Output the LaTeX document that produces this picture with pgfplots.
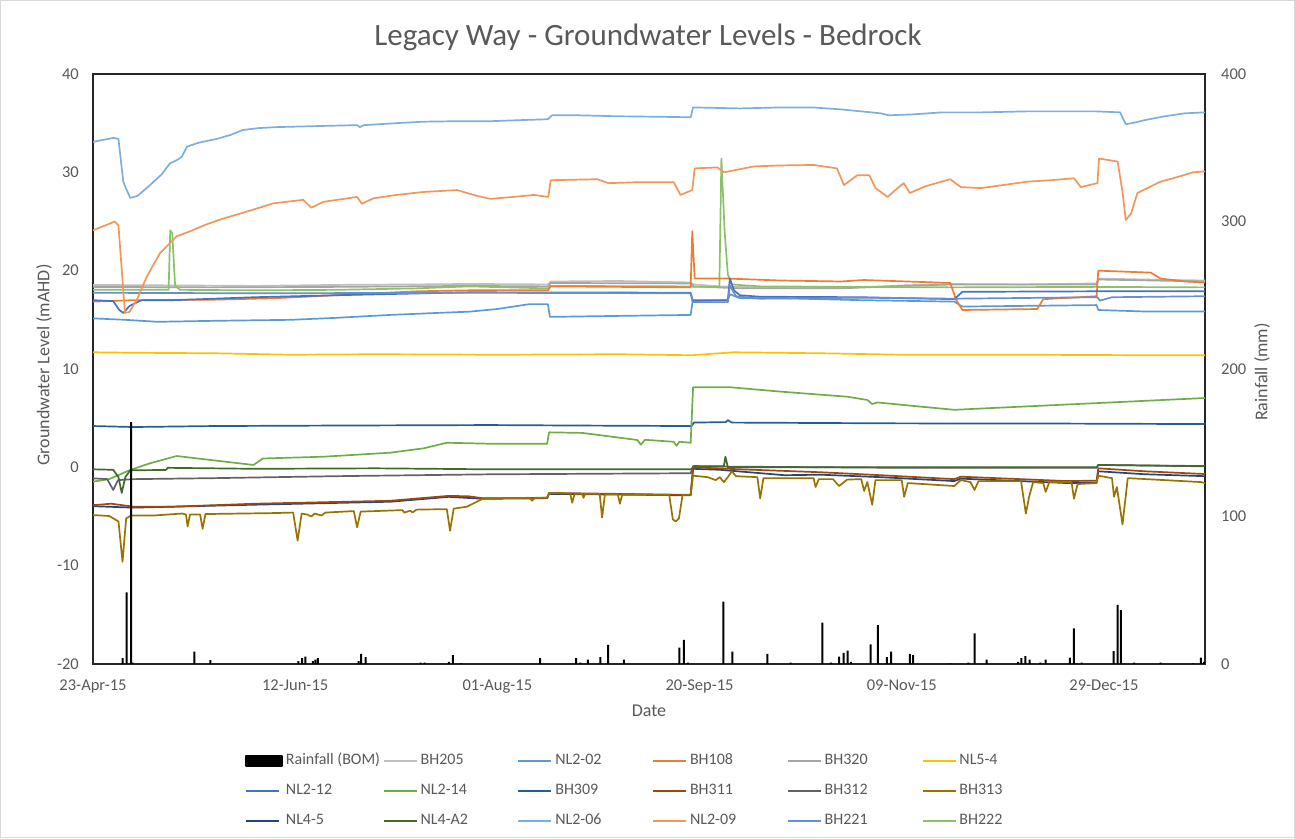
\documentclass[border=0pt]{standalone}
\usepackage{fontspec}
\setmainfont{Carlito}
\usepackage{pgfplots}
\pgfplotsset{compat=1.18}
\definecolor{tgray}{HTML}{595959}
\definecolor{cBHtwoofive}{HTML}{BFBFBF}
\definecolor{cNLtwooh2}{HTML}{5B9BD5}
\definecolor{cBHoneoeight}{HTML}{ED7D31}
\definecolor{cBHthreetwenty}{HTML}{A5A5A5}
\definecolor{cNLfivefour}{HTML}{FFC000}
\definecolor{cNLtwotwelve}{HTML}{4472C4}
\definecolor{cNLtwofourteen}{HTML}{70AD47}
\definecolor{cBHthreeohnine}{HTML}{255E91}
\definecolor{cBHthreeeleven}{HTML}{9E480E}
\definecolor{cBHthreetwelve}{HTML}{636363}
\definecolor{cBHthreethirteen}{HTML}{997300}
\definecolor{cNLfourfive}{HTML}{264478}
\definecolor{cNLfourAtwo}{HTML}{43682B}
\definecolor{cNLtwoohsix}{HTML}{7CAFDD}
\definecolor{cNLtwoohnine}{HTML}{F1975A}
\definecolor{cBHtwotwentyone}{HTML}{698ED0}
\definecolor{cBHtwotwentytwo}{HTML}{8CC168}
\begin{document}
\begin{tikzpicture}[x=1pt,y=1pt]
\useasboundingbox (0,0) rectangle (1295,838);
\draw[color=black!15, line width=1pt] (0.5,0.5) rectangle (1294.5,837.5);
\node[font=\fontsize{31}{36}\selectfont, text=tgray] at (648,801) {Legacy Way - Groundwater Levels - Bedrock};
\node[rotate=90, font=\fontsize{18}{21}\selectfont, text=tgray] at (44,473) {Groundwater Level (mAHD)};
\node[rotate=90, font=\fontsize{18}{21}\selectfont, text=tgray] at (1262,466) {Rainfall (mm)};
\node[font=\fontsize{18}{21}\selectfont, text=tgray] at (649,127) {Date};
\begin{axis}[
  at={(93pt,174pt)}, anchor=south west, scale only axis,
  width=1112pt, height=590pt,
  xmin=0, xmax=275, ymin=-20, ymax=40,
  xtick={0,50,100,150,200,250},
  xticklabels={23-Apr-15,12-Jun-15,01-Aug-15,20-Sep-15,09-Nov-15,29-Dec-15},
  ytick={-20,-10,0,10,20,30,40},
  major tick length=0pt,
  /pgf/number format/assume math mode=true,
  tick label style={font=\fontsize{16.5}{19}\selectfont, text=tgray, inner sep=0pt},
  yticklabel style={anchor=east, xshift=-14pt},
  xticklabel style={anchor=north, yshift=-16pt},
  axis line style={black!85, line width=1.5pt},
  every axis plot/.append style={line width=1.7pt, line join=round},
  legend columns=6,
  legend cell align=left,
  legend image code/.code={\draw[#1] (0pt,0pt) -- (33pt,0pt);},
  legend style={at={(0.1367,-0.1517)}, anchor=north west, draw=none, fill=none,
    inner sep=0pt, row sep=15pt, column sep=0pt,
    font=\fontsize{16}{19}\selectfont, text=tgray,
    nodes={inner sep=0pt, text height=11pt, text depth=4pt}},
]
\addlegendimage{legend image code/.code={\fill[black] (0pt,-5pt) rectangle (36pt,5pt);}}
\addlegendentry{\makebox[100pt][l]{\hspace{3pt}Rainfall (BOM)}}
\addlegendimage{cBHtwoofive, line width=1.7pt}\addlegendentry{\makebox[100pt][l]{\hspace{3pt}BH205}}
\addlegendimage{cNLtwooh2, line width=1.7pt}\addlegendentry{\makebox[100pt][l]{\hspace{3pt}NL2-02}}
\addlegendimage{cBHoneoeight, line width=1.7pt}\addlegendentry{\makebox[100pt][l]{\hspace{3pt}BH108}}
\addlegendimage{cBHthreetwenty, line width=1.7pt}\addlegendentry{\makebox[100pt][l]{\hspace{3pt}BH320}}
\addlegendimage{cNLfivefour, line width=1.7pt}\addlegendentry{\makebox[100pt][l]{\hspace{3pt}NL5-4}}
\addlegendimage{cNLtwotwelve, line width=1.7pt}\addlegendentry{\makebox[100pt][l]{\hspace{3pt}NL2-12}}
\addlegendimage{cNLtwofourteen, line width=1.7pt}\addlegendentry{\makebox[100pt][l]{\hspace{3pt}NL2-14}}
\addlegendimage{cBHthreeohnine, line width=1.7pt}\addlegendentry{\makebox[100pt][l]{\hspace{3pt}BH309}}
\addlegendimage{cBHthreeeleven, line width=1.7pt}\addlegendentry{\makebox[100pt][l]{\hspace{3pt}BH311}}
\addlegendimage{cBHthreetwelve, line width=1.7pt}\addlegendentry{\makebox[100pt][l]{\hspace{3pt}BH312}}
\addlegendimage{cBHthreethirteen, line width=1.7pt}\addlegendentry{\makebox[100pt][l]{\hspace{3pt}BH313}}
\addlegendimage{cNLfourfive, line width=1.7pt}\addlegendentry{\makebox[100pt][l]{\hspace{3pt}NL4-5}}
\addlegendimage{cNLfourAtwo, line width=1.7pt}\addlegendentry{\makebox[100pt][l]{\hspace{3pt}NL4-A2}}
\addlegendimage{cNLtwoohsix, line width=1.7pt}\addlegendentry{\makebox[100pt][l]{\hspace{3pt}NL2-06}}
\addlegendimage{cNLtwoohnine, line width=1.7pt}\addlegendentry{\makebox[100pt][l]{\hspace{3pt}NL2-09}}
\addlegendimage{cBHtwotwentyone, line width=1.7pt}\addlegendentry{\makebox[100pt][l]{\hspace{3pt}BH221}}
\addlegendimage{cBHtwotwentytwo, line width=1.7pt}\addlegendentry{\makebox[100pt][l]{\hspace{3pt}BH222}}
% NL2-02
\addplot[cNLtwooh2, forget plot] coordinates {(0,15.15) (8,15.0) (16,14.8) (30,14.9) (48.8,15.0) (60,15.2) (73.5,15.5) (85,15.7) (93,15.83) (100,16.1) (108,16.6) (112.5,16.6) (113,15.3) (130,15.4) (147.8,15.5) (148.3,16.9) (157,17.0) (157.5,17.6) (160,17.2) (170,17.2) (190,17.0) (213,16.85) (215,16.35) (248.2,16.5) (248.6,16.0) (260,15.85) (275,15.85)};
% BH205
\addplot[cBHtwoofive, forget plot] coordinates {(0,18.55) (20,18.5) (40,18.45) (60,18.55) (80,18.6) (93,18.65) (112.5,18.6) (113.2,18.9) (130,18.95) (147.8,18.8) (148.5,18.6) (155,18.4) (170,18.25) (190,18.3) (200,18.5) (213,18.64) (230,18.6) (248.2,18.7) (248.6,19.2) (260,19.1) (275,19.0)};
% BH320
\addplot[cBHthreetwenty, forget plot] coordinates {(0,18.35) (30,18.3) (60,18.35) (93,18.45) (112.5,18.4) (113.2,18.75) (147.8,18.7) (148.5,18.4) (160,18.2) (185,18.2) (200,18.45) (213,18.6) (248.2,18.6) (248.6,19.1) (262,19.0) (275,18.9)};
% BH222
\addplot[cBHtwotwentytwo, forget plot] coordinates {(0,18.05) (18.7,18.05) (19.1,24.1) (19.6,23.8) (20.3,18.5) (21.5,18.05) (40,18.0) (60,18.05) (80,18.2) (93,18.4) (112.5,18.2) (113.2,18.45) (147.8,18.4) (148.5,18.35) (154.9,18.35) (155.4,31.4) (156.2,24) (157,19.6) (158,18.6) (165,18.4) (190,18.35) (213,18.3) (248,18.35) (275,18.3)};
% BH108
\addplot[cBHoneoeight, forget plot] coordinates {(0,16.85) (10,17.0) (30,17.05) (45,17.2) (60,17.5) (80,17.9) (93,18.0) (112.5,18.0) (113.2,18.4) (147.8,18.3) (148.2,24.0) (148.8,19.2) (156.8,19.2) (170,19.0) (185,18.9) (190.6,19.05) (212,18.75) (213.5,17.0) (215,16.0) (233.5,16.1) (235,17.1) (248.2,17.4) (248.6,20.0) (261.6,19.8) (264,19.2) (270,18.9) (275,18.8)};
% NL2-12
\addplot[cNLtwotwelve, forget plot] coordinates {(0,17.0) (5,16.9) (6.5,16.0) (7.5,15.7) (9,16.4) (12,17.0) (20,17.0) (40,17.3) (60,17.5) (93,17.8) (147.8,17.76) (148.3,17.0) (157,17.0) (157.5,19.2) (158.5,18.0) (160,17.5) (165,17.35) (190,17.3) (213,17.1) (215,17.85) (248,17.9) (275,17.9)};
% BH221
\addplot[cBHtwotwentyone, forget plot] coordinates {(0,17.75) (40,17.7) (93,17.75) (147.8,17.7) (148.3,16.8) (157,16.8) (157.5,18.5) (159,17.4) (165,17.15) (190,17.25) (213,17.15) (248.4,17.3) (249,16.95) (252,17.3) (275,17.4)};
% NL2-06
\addplot[cNLtwoohsix, forget plot] coordinates {(0,33.1) (5,33.5) (6.3,33.4) (7.5,29.0) (9.2,27.4) (11,27.6) (14.1,28.7) (17,29.8) (19,30.9) (21,31.3) (22,31.6) (23.2,32.6) (26,33.0) (30.6,33.4) (34,33.8) (37,34.3) (41,34.5) (45.5,34.6) (55,34.7) (65.3,34.8) (66,34.6) (67,34.8) (75,35.0) (81.7,35.15) (90,35.2) (98.3,35.2) (105,35.3) (112.5,35.4) (113.5,35.8) (120,35.8) (130,35.7) (140,35.65) (147.8,35.6) (148.4,36.6) (160,36.5) (170,36.6) (178,36.6) (185,36.4) (190,36.2) (194.8,36.0) (196.8,35.8) (203,35.9) (210,36.1) (220,36.1) (231,36.2) (240,36.2) (248,36.2) (254,36.1) (255.4,34.9) (257,35.0) (260,35.3) (265,35.7) (270,36.0) (275,36.1)};
% NL2-09
\addplot[cNLtwoohnine, forget plot] coordinates {(0,24.1) (5.4,25.0) (6.3,24.6) (7.9,15.7) (9,15.8) (10.8,17.0) (13.3,19.4) (16.6,21.8) (20.7,23.5) (24,24.0) (28,24.7) (32.2,25.3) (38,26.0) (44.6,26.85) (52,27.2) (54,26.4) (57,27.0) (65.3,27.5) (66.5,26.8) (69.3,27.35) (75,27.7) (81.7,28.0) (90,28.2) (95,27.6) (98.3,27.3) (104,27.5) (109,27.7) (112.6,27.5) (113.2,29.2) (124.7,29.3) (127.5,28.9) (135,29.0) (143.6,29.0) (145.3,27.7) (148.2,28.2) (148.8,30.4) (154.4,30.5) (156,30.0) (163.4,30.6) (170,30.7) (178.3,30.75) (184,30.4) (185.7,28.7) (189,29.7) (192,29.7) (193.5,28.4) (196.5,27.5) (199,28.4) (200.5,28.9) (202,27.9) (206,28.6) (212,29.3) (214.6,28.5) (219.6,28.4) (225,28.7) (231,29.05) (237,29.2) (242.6,29.4) (244.3,28.5) (248.4,28.9) (248.8,31.4) (253.4,31.1) (254.6,28.0) (255.4,25.15) (256.7,25.8) (258.3,27.9) (264,29.05) (268,29.5) (272,30.0) (275,30.1)};
% NL5-4
\addplot[cNLfivefour, forget plot] coordinates {(0,11.7) (10,11.65) (30,11.6) (48.8,11.45) (70,11.5) (100,11.45) (130,11.5) (148,11.4) (158.4,11.7) (180,11.6) (200,11.45) (230,11.45) (260,11.4) (275,11.4)};
% BH309
\addplot[cBHthreeohnine, forget plot] coordinates {(0,4.2) (10,4.1) (30,4.2) (60,4.25) (98,4.3) (120,4.25) (148,4.2) (148.6,4.55) (156.5,4.6) (157,4.8) (158,4.55) (200,4.47) (240,4.45) (275,4.4)};
% NL2-14
\addplot[cNLtwofourteen, forget plot] coordinates {(0,-1.46) (4,-1.2) (9.2,-0.27) (14,0.4) (20.7,1.15) (39.7,0.24) (42,0.9) (57,1.08) (73.5,1.49) (81.7,1.93) (87.5,2.5) (98.3,2.4) (112.3,2.4) (112.8,3.56) (121,3.5) (134.6,2.78) (135.5,2.3) (136.5,2.8) (143.6,2.6) (144.3,2.2) (145,2.6) (147.8,2.5) (148.4,8.14) (157.7,8.14) (170,7.7) (186.6,7.18) (191.5,6.85) (192.7,6.44) (194,6.6) (204,6.2) (213,5.85) (275,7.05)};
% BH312
\addplot[cBHthreetwelve, forget plot] coordinates {(0,-1.12) (3.5,-1.2) (5,-2.3) (6.2,-1.3) (10,-1.2) (30,-1.1) (60,-0.9) (98,-0.71) (147.8,-0.6) (148.4,0.1) (200,-0.05) (248.2,-0.05) (248.6,0.25) (275,0.1)};
% NL4-A2
\addplot[cNLfourAtwo, forget plot] coordinates {(0,-0.2) (5,-0.25) (6.3,-1.0) (7.1,-2.6) (8,-1.0) (9.2,-0.3) (18,-0.27) (18.5,-0.05) (40,-0.15) (70,-0.1) (98,-0.2) (148,-0.2) (148.5,0.13) (156,0.1) (156.4,1.08) (157,0.0) (200,0.0) (248.2,0.0) (248.6,0.24) (275,0.13)};
% NL4-5
\addplot[cNLfourfive, forget plot] coordinates {(0,-3.95) (10,-4.1) (40,-3.8) (73.5,-3.5) (88,-3.0) (96.5,-3.2) (112.3,-3.15) (112.8,-2.7) (147.8,-2.85) (148.4,-0.15) (155,-0.25) (171,-0.8) (180,-0.75) (194.8,-1.0) (213,-1.4) (214.6,-1.15) (241,-1.6) (248.2,-1.55) (248.6,-0.4) (260,-0.7) (275,-0.9)};
% BH311
\addplot[cBHthreeeleven, forget plot] coordinates {(0,-3.85) (4.5,-3.7) (10,-4.0) (20,-4.0) (40,-3.7) (73.5,-3.4) (88,-2.9) (93,-2.95) (96.5,-3.15) (112.3,-3.1) (112.8,-2.6) (130,-2.7) (147.8,-2.8) (148.4,0.0) (160,-0.2) (180,-0.5) (194.8,-0.8) (213,-1.2) (214.6,-0.95) (241,-1.4) (248.2,-1.35) (248.6,-0.1) (260,-0.4) (275,-0.68)};
% BH313
\addplot[cBHthreethirteen, forget plot] coordinates {(0,-4.85) (4,-4.95) (6.3,-5.5) (7.3,-9.6) (8.2,-5.2) (9.4,-4.9) (15,-4.9) (22,-4.7) (23,-4.8) (23.4,-6.0) (24,-4.8) (26.5,-4.8) (27.1,-6.25) (27.8,-4.75) (45,-4.65) (49.5,-4.6) (50.6,-7.45) (51.6,-4.7) (53,-4.8) (54,-5.0) (54.8,-4.7) (56.5,-4.9) (57.5,-4.6) (64.5,-4.45) (65.3,-6.1) (66.2,-4.5) (76.5,-4.35) (77,-4.6) (78.5,-4.4) (79,-4.6) (80,-4.3) (87.5,-4.25) (88.3,-6.45) (89.2,-4.2) (92.5,-4.0) (96.6,-3.15) (108,-3.1) (108.6,-3.4) (109.2,-3.1) (112.3,-3.1) (112.8,-2.6) (118,-2.65) (118.5,-3.6) (119.1,-2.7) (121,-2.7) (121.3,-3.1) (121.7,-2.7) (125.3,-2.7) (125.9,-5.1) (126.6,-2.75) (129.8,-2.75) (130.3,-3.7) (130.9,-2.75) (142.5,-2.8) (143.4,-5.3) (144.1,-5.5) (144.9,-5.2) (145.8,-2.8) (147.8,-2.8) (148.4,-0.85) (152,-1.0) (154,-1.3) (155,-1.0) (156,-1.5) (157,-1.0) (158,-0.4) (159,-0.9) (164.3,-1.0) (165,-3.15) (165.8,-1.1) (175,-1.1) (178.2,-1.1) (178.7,-2.0) (179.5,-1.2) (183,-1.2) (184.5,-1.9) (186.5,-1.25) (190,-1.2) (190.7,-2.4) (191.5,-1.5) (192.7,-3.8) (193.5,-1.3) (200,-1.3) (200.6,-3.0) (201.5,-1.6) (213,-1.9) (214.6,-1.3) (217,-1.5) (218,-2.3) (219,-1.4) (229.5,-1.4) (230.7,-4.7) (231.5,-3.0) (232.5,-1.5) (235,-1.6) (235.6,-2.5) (236.5,-1.5) (242,-1.5) (242.6,-3.2) (243.5,-1.7) (248.2,-1.6) (248.6,-0.85) (252,-1.1) (252.5,-3.0) (253.2,-2.0) (254.6,-5.8) (255.9,-1.1) (265,-1.3) (274,-1.5) (275,-1.6)};
\end{axis}
\begin{axis}[
  at={(93pt,174pt)}, anchor=south west, scale only axis,
  width=1112pt, height=590pt,
  xmin=0, xmax=275, ymin=0, ymax=400,
  axis x line=none, axis y line*=right,
  axis line style={draw=none},
  ytick={0,100,200,300,400},
  major tick length=0pt,
  /pgf/number format/assume math mode=true,
  tick label style={font=\fontsize{16.5}{19}\selectfont, text=tgray, inner sep=0pt},
  yticklabel style={anchor=west, xshift=16pt},
]
\addplot[ybar, bar width=2pt, fill=black, draw=none] coordinates {(7.3,4) (8.3,48.6) (9.4,164) (9.8,1) (25.1,8.4) (29,2.7) (50.8,2) (51.7,4) (52.5,5) (54.4,2) (55,3) (55.6,4) (65.7,2) (66.3,6.8) (67.4,4.7) (81,1) (82,1) (88,1.5) (89,6.1) (91,0.5) (110.6,4) (119.5,4) (120.5,1) (122.4,3) (125.5,4.7) (127.4,12.9) (131.3,3) (145,11.1) (146.1,16.3) (147.1,1) (155.9,42.3) (158.1,8.4) (166.8,6.8) (172.5,1) (180.4,28) (182.5,1) (184.5,5) (185.6,7.5) (186.6,9) (187.4,1.5) (192.3,13.3) (194.1,26.4) (196.3,4.7) (197.4,8.4) (202,6.8) (202.8,6) (212,0.5) (216.5,1) (218,20.8) (221,3) (228.8,1.5) (229.6,4) (230.6,5.4) (231.6,3) (234.3,1) (235.6,3) (241.6,4.3) (242.6,24.2) (244.5,1) (252.4,8.8) (253.4,40) (254.2,36.6) (257.5,1) (264,1) (272,0.5) (274,4.3) (274.8,1.5)};
\end{axis}
\end{tikzpicture}
\end{document}
